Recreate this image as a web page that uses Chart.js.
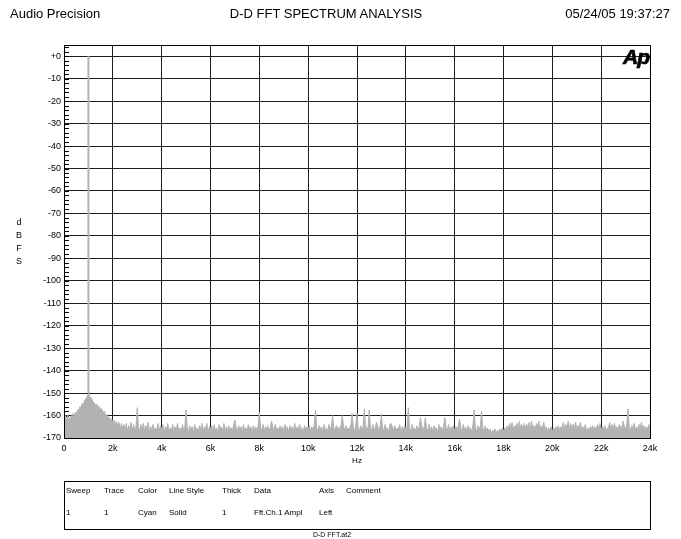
<!DOCTYPE html>
<html>
<head>
<meta charset="utf-8">
<script src="https://cdn.jsdelivr.net/npm/chart.js@4/dist/chart.umd.min.js"></script>
<style>
  body { margin: 0; background: #fff; font-family: "Liberation Sans", Arial, sans-serif; color: #000; }
  #wrap { position: relative; width: 681px; height: 539px; overflow: hidden; }
  #graph { position: absolute; left: 0; top: 0; }
  .t { position: absolute; white-space: nowrap; }
  .hdr { font-size: 13px; top: 6px; }
  .tbl { font-size: 8px; }
  #box { position: absolute; left: 64px; top: 481px; width: 585px; height: 47px; border: 1px solid #000; }
  #logo { position: absolute; left: 623px; top: 45px; font: italic bold 21px "Liberation Sans", Arial, sans-serif; letter-spacing: -1px; -webkit-text-stroke: 0.7px #000; }
</style>
</head>
<body>
<div id="wrap">
  <canvas id="graph" width="681" height="539"></canvas>
  <div class="t hdr" style="left:10px">Audio Precision</div>
  <div class="t hdr" style="left:326px; transform:translateX(-50%)">D-D FFT SPECTRUM ANALYSIS</div>
  <div class="t hdr" style="right:11px">05/24/05 19:37:27</div>
  <div id="logo">Ap</div>
  <div class="t" style="left:15px; top:216px; font-size:9px; line-height:13px; text-align:center; width:8px">d<br>B<br>F<br>S</div>
  <div class="t" style="left:357px; top:456px; font-size:8px; transform:translateX(-50%)">Hz</div>
  <div id="box"></div>
  <div class="t tbl" style="left:66px; top:486px">Sweep</div>
  <div class="t tbl" style="left:104px; top:486px">Trace</div>
  <div class="t tbl" style="left:138px; top:486px">Color</div>
  <div class="t tbl" style="left:169px; top:486px">Line Style</div>
  <div class="t tbl" style="left:222px; top:486px">Thick</div>
  <div class="t tbl" style="left:254px; top:486px">Data</div>
  <div class="t tbl" style="left:319px; top:486px">Axis</div>
  <div class="t tbl" style="left:346px; top:486px">Comment</div>
  <div class="t tbl" style="left:66px; top:508px">1</div>
  <div class="t tbl" style="left:104px; top:508px">1</div>
  <div class="t tbl" style="left:138px; top:508px">Cyan</div>
  <div class="t tbl" style="left:169px; top:508px">Solid</div>
  <div class="t tbl" style="left:222px; top:508px">1</div>
  <div class="t tbl" style="left:254px; top:508px">Fft.Ch.1 Ampl</div>
  <div class="t tbl" style="left:319px; top:508px">Left</div>
  <div class="t" style="left:332px; top:531px; font-size:7px; transform:translateX(-50%)">D-D FFT.at2</div>
</div>
<script>
// FFT bins, one value every 50 Hz from 0 to 24 kHz (dBFS)
const binHz = 50;
const levels = [
  // 0k
  -163, -160, -162, -159.5, -163.5, -160.5, -161, -159, -162, -158.5,
  -160, -157.5, -158, -156, -156.5, -154.5, -155, -153, -152.5, -151.5,
  // 1k
  -150, -151.5, -152, -153, -154, -154.5, -155.5, -155, -156.5, -156,
  -157.5, -157, -159, -158, -160, -159.5, -161, -160.5, -162, -161.5,
  // 2k
  -163, -162, -164, -162.5, -165, -163, -166, -163.5, -165.5, -164,
  -166.5, -163.5, -167, -164.5, -166, -163, -167, -164, -166.5, -165,
  // 3k
  -156.5, -165, -167, -164, -166.5, -163.5, -167, -164.5, -166, -163,
  -167.5, -165, -166, -164, -167, -165.5, -166.5, -163.5, -167, -164.5,
  // 4k
  -166, -164, -167.5, -165, -166, -163.5, -167, -165.5, -166.5, -164,
  -167.5, -165, -166, -163.5, -167, -165.5, -167.5, -164, -166.5, -165,
  // 5k
  -157.5, -166, -167, -164.5, -166.5, -165, -167.5, -164, -166, -165.5,
  -167, -164.5, -166.5, -163.5, -167, -165, -166, -163.5, -167.5, -165,
  // 6k
  -166, -164.5, -167, -164, -166.5, -165.5, -167.5, -164, -166, -165,
  -167, -163.5, -166.5, -165, -167, -164.5, -166, -165.5, -167, -164,
  // 7k
  -162, -165.5, -167, -164.5, -166, -165, -167.5, -164, -166.5, -165.5,
  -167, -164, -166, -165, -167.5, -164.5, -166.5, -165, -167, -164.5,
  // 8k
  -158.5, -165.5, -166.5, -164, -167, -165, -166, -164.5, -167, -165.5,
  -162.5, -165, -167.5, -164, -166, -165.5, -167, -164.5, -166.5, -165,
  // 9k
  -167, -164, -166, -165, -167.5, -164.5, -166, -165, -167, -163.5,
  -166.5, -165, -167, -164, -166, -165.5, -167.5, -164.5, -166.5, -165,
  // 10k
  -166, -164.5, -167, -165, -166.5, -164, -157.5, -165.5, -167, -164.5,
  -166, -165, -167.5, -164, -166.5, -165.5, -167, -164, -166, -165,
  // 11k
  -160, -165.5, -167, -164.5, -166, -165, -167.5, -164, -160, -165,
  -166.5, -164.5, -167, -165.5, -166, -164, -159, -165.5, -167, -164.5,
  // 12k
  -159, -166, -167, -164.5, -166.5, -165, -157, -164.5, -166, -165.5,
  -157.5, -165, -167, -164, -166.5, -165.5, -163, -165, -167, -164.5,
  // 13k
  -159.5, -165.5, -167, -164, -166, -165.5, -167.5, -164, -163.5, -165,
  -166.5, -164.5, -167, -165.5, -166, -164, -167.5, -165, -166.5, -164.5,
  // 14k
  -166, -165, -156.5, -165.5, -167, -164, -166, -165.5, -167, -164.5,
  -166.5, -165, -161, -164.5, -167, -165, -161, -165.5, -167, -164,
  // 15k
  -166.5, -165, -167, -164.5, -166, -165.5, -167.5, -164, -166, -165,
  -167, -164.5, -161, -165.5, -166.5, -164, -167, -165, -166.5, -164.5,
  // 16k
  -167, -165, -166, -164.5, -161.5, -165.5, -167, -164, -166.5, -165,
  -167, -164.5, -166, -165.5, -167.5, -164, -157.5, -165.5, -167, -164.5,
  // 17k
  -166, -165, -158, -165.5, -167, -164.5, -166.5, -165.5, -167.5, -166,
  -168, -166.5, -167.5, -166, -168, -166.5, -167.5, -166, -167, -165.5,
  // 18k
  -167, -165.5, -166.5, -164.5, -166, -163.5, -165.5, -163, -166, -164.5,
  -165, -163.5, -166, -162.5, -165.5, -164, -166.5, -163.5, -165.5, -164,
  // 19k
  -165.5, -163, -166, -162.5, -165.5, -164.5, -166, -163.5, -165, -162.5,
  -166, -164.5, -165.5, -163, -166.5, -165, -167, -165.5, -166.5, -165,
  // 20k
  -167, -165.5, -166.5, -165, -166, -164.5, -166.5, -165, -165.5, -163,
  -166, -164, -165, -162.5, -166, -163.5, -165.5, -164, -166, -163,
  // 21k
  -166, -164.5, -165.5, -163, -166.5, -165, -166, -164, -167, -165.5,
  -167, -165, -166, -164.5, -166.5, -165, -166, -164, -165.5, -163.5,
  // 22k
  -166.5, -165, -166, -164.5, -167, -165.5, -165.5, -163, -166, -164,
  -165.5, -163.5, -166.5, -165, -166, -164, -165.5, -165, -162.5, -165,
  // 23k
  -166, -164, -157, -165.5, -166.5, -164.5, -165.5, -163.5, -166.5, -165,
  -166, -164, -165.5, -163, -166, -164.5, -166.5, -165, -166, -164,
  // 24k
  -165
];
// the 1 kHz test tone
const toneFreqs = [1000, 1000];
const toneLevels = [-150, 0];

const xTicks = [0, 2000, 4000, 6000, 8000, 10000, 12000, 14000, 16000, 18000, 20000, 22000, 24000];
const xTickLabels = ['0', '2k', '4k', '6k', '8k', '10k', '12k', '14k', '16k', '18k', '20k', '22k', '24k'];
const yTicks = [-170, -160, -150, -140, -130, -120, -110, -100, -90, -80, -70, -60, -50, -40, -30, -20, -10, 0];
const yTickLabels = ['-170', '-160', '-150', '-140', '-130', '-120', '-110', '-100', '-90', '-80', '-70', '-60', '-50', '-40', '-30', '-20', '-10', '+0'];
const xMinorStep = 400;
const yMinorStep = 2;

const traceGrey = '#b2b2b2';
const gridColor = '#1e1e1e';

// minor ticks sit under the trace, the frame on top
const apFrame = {
  id: 'apFrame',
  beforeDatasetsDraw(chart) {
    const { ctx, chartArea: a, scales: { x, y } } = chart;
    ctx.save();
    ctx.strokeStyle = '#000';
    ctx.lineWidth = 1;
    ctx.beginPath();
    for (let v = y.min + yMinorStep; v < y.max; v += yMinorStep) {
      const py = Math.round(y.getPixelForValue(v)) + 0.5;
      ctx.moveTo(a.left, py);
      ctx.lineTo(a.left + 5, py);
    }
    for (let v = x.min + xMinorStep; v < x.max; v += xMinorStep) {
      const px = Math.round(x.getPixelForValue(v)) + 0.5;
      ctx.moveTo(px, a.bottom);
      ctx.lineTo(px, a.bottom - 9);
    }
    ctx.stroke();
    ctx.restore();
  },
  afterDatasetsDraw(chart) {
    const { ctx, chartArea: a } = chart;
    ctx.save();
    ctx.strokeStyle = '#000';
    ctx.lineWidth = 1;
    ctx.strokeRect(Math.round(a.left) + 0.5, Math.round(a.top) + 0.5, Math.round(a.width), Math.round(a.height));
    ctx.restore();
  }
};

const noise = levels.map((v, i) => ({ x: i * binHz, y: v }));
const tone = toneFreqs.map((f, i) => ({ x: f, y: toneLevels[i] }));

new Chart(document.getElementById('graph'), {
  type: 'line',
  data: {
    datasets: [
      {
        data: noise,
        borderColor: traceGrey,
        backgroundColor: traceGrey,
        borderWidth: 1,
        pointRadius: 0,
        fill: 'start',
        tension: 0
      },
      {
        data: tone,
        borderColor: traceGrey,
        borderWidth: 2,
        pointRadius: 0,
        fill: false
      }
    ]
  },
  options: {
    responsive: false,
    animation: false,
    layout: { padding: { left: 0, top: 45, right: 31, bottom: 81 } },
    plugins: { legend: { display: false }, tooltip: { enabled: false } },
    scales: {
      x: {
        type: 'linear',
        min: 0,
        max: 24000,
        afterBuildTicks: axis => { axis.ticks = xTicks.map(v => ({ value: v })); },
        afterFit: s => { s.height = 20; },
        grid: { color: gridColor, lineWidth: 1, drawTicks: false },
        border: { color: '#000' },
        ticks: {
          padding: 5,
          color: '#000',
          font: { family: '"Liberation Sans", Arial, sans-serif', size: 9 },
          maxRotation: 0,
          callback: v => xTickLabels[xTicks.indexOf(v)]
        }
      },
      y: {
        min: -170,
        max: 5,
        afterBuildTicks: axis => { axis.ticks = yTicks.map(v => ({ value: v })); },
        afterFit: s => { s.width = 64; },
        grid: { color: gridColor, lineWidth: 1, drawTicks: false },
        border: { color: '#000' },
        ticks: {
          padding: 3,
          color: '#000',
          font: { family: '"Liberation Sans", Arial, sans-serif', size: 9 },
          callback: v => yTickLabels[yTicks.indexOf(v)]
        }
      }
    }
  },
  plugins: [apFrame]
});
</script>
</body>
</html>
